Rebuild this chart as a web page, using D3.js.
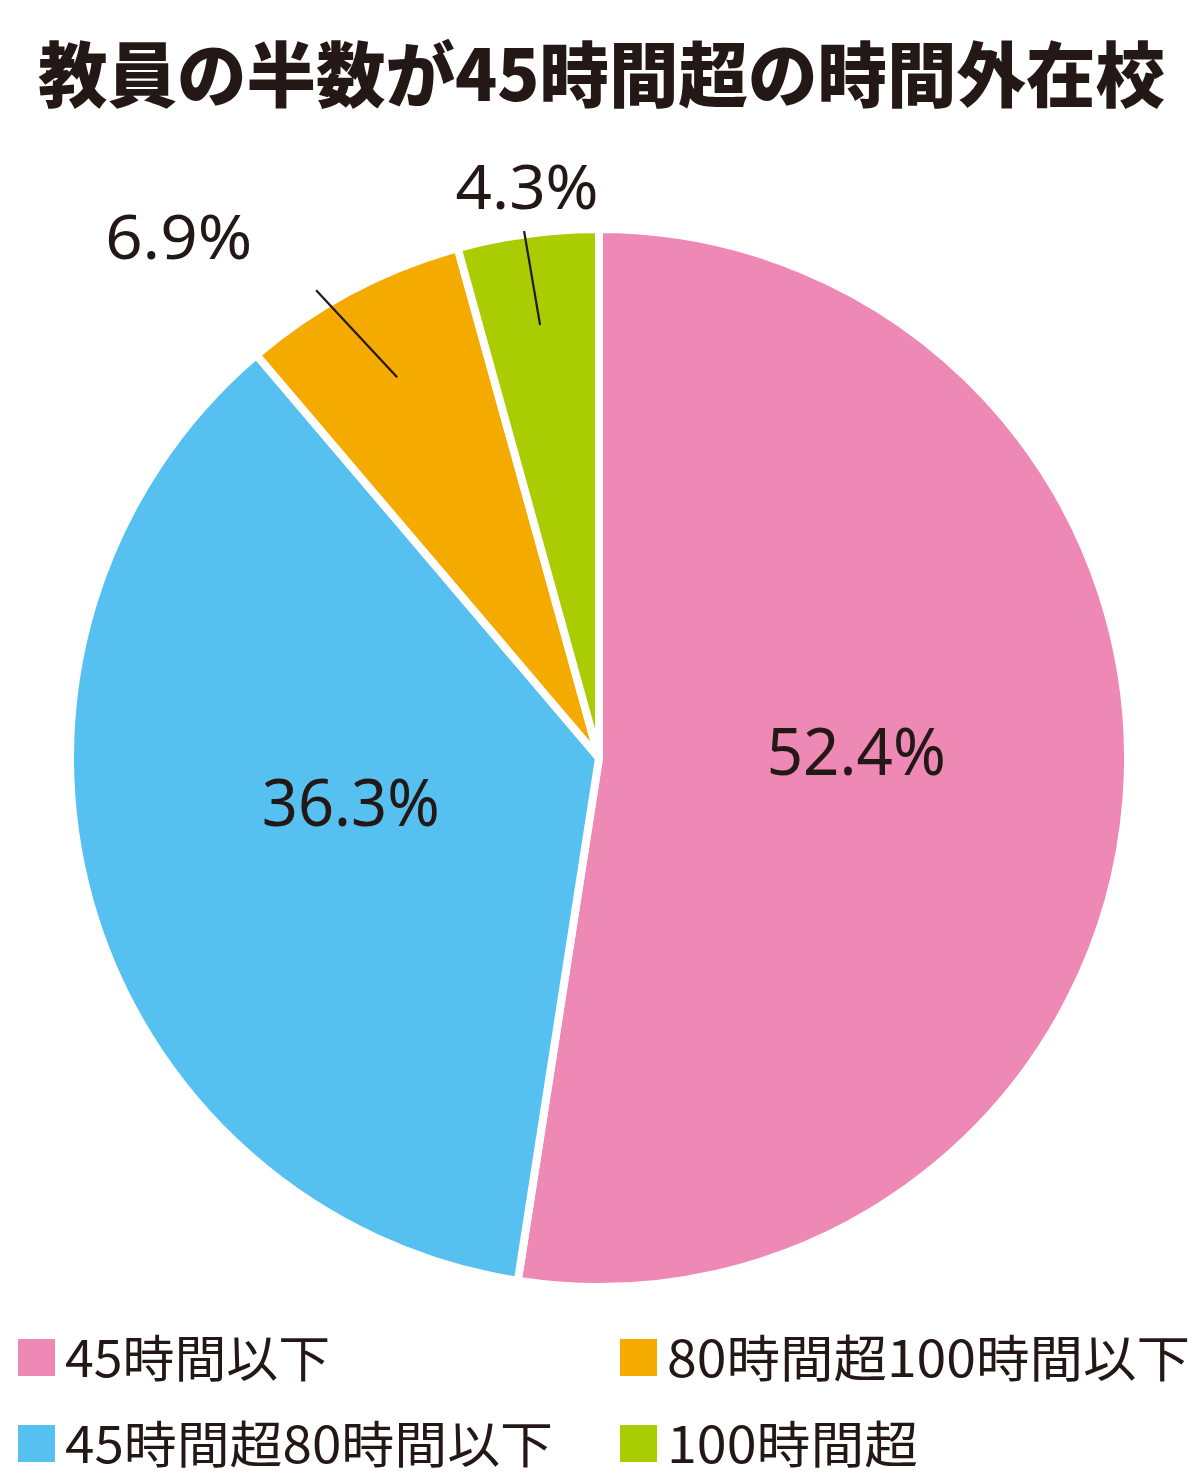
<!DOCTYPE html>
<html><head><meta charset="utf-8">
<script src="https://cdn.jsdelivr.net/npm/d3@7"></script>
<style>html,body{margin:0;padding:0;background:#fff;}</style>
</head><body>
<script>
const title = "教員の半数が45時間超の時間外在校";
const categories = ["45時間以下", "45時間超80時間以下", "80時間超100時間以下", "100時間超"];
const values = [52.4, 36.3, 6.9, 4.3];
const labels = ["52.4%", "36.3%", "6.9%", "4.3%"];
const colors = ["#EE88B4", "#56C1F0", "#F5AA00", "#AACC03"];

const W = 1200, H = 1476;
const cx = 599, cy = 758, R = 529;
const ink = "#231815";

const svg = d3.select("body").append("svg").attr("width", W).attr("height", H);
svg.append("rect").attr("width", W).attr("height", H).attr("fill", "#fff");

svg.append("text").attr("x", 38).attr("y", 101)
  .attr("textLength", 1127).attr("lengthAdjust", "spacingAndGlyphs")
  .attr("font-family", "'Noto Sans CJK JP'").attr("font-weight", 900)
  .attr("font-size", 71).attr("fill", ink).text(title);

const pie = d3.pie().sort(null).value(d => d);
const arcs = pie(values);
const arc = d3.arc().innerRadius(0).outerRadius(R);
const g = svg.append("g").attr("transform", `translate(${cx},${cy})`);

g.selectAll("path.slice").data(arcs).join("path")
  .attr("d", arc).attr("fill", (d, i) => colors[i])
  .attr("stroke", "#fff").attr("stroke-width", 8).attr("stroke-linejoin", "miter");

// inner labels
const inArc = d3.arc().innerRadius(258).outerRadius(258);
const innerDy = [-28, -27];
const innerW = [179, 178];
[0, 1].forEach(i => {
  const c = inArc.centroid(arcs[i]);
  g.append("text").attr("x", c[0]).attr("y", c[1] + innerDy[i])
    .attr("text-anchor", "middle").attr("dominant-baseline", "central")
    .attr("textLength", innerW[i]).attr("lengthAdjust", "spacingAndGlyphs")
    .attr("font-family", "'Noto Sans'").attr("font-size", 65).attr("fill", ink)
    .text(labels[i]);
});

// leader lines & outer labels
const leadR = [431, 437];
const leadVec = [[-81, -87], [-16, -94]];
const outerOff = [[-64, -31, "end"], [3, -22, "middle"]];
const outerW = [147, 143];
[2, 3].forEach((i, k) => {
  const a0 = d3.arc().innerRadius(leadR[k]).outerRadius(leadR[k]).centroid(arcs[i]);
  const a1 = [a0[0] + leadVec[k][0], a0[1] + leadVec[k][1]];
  g.append("line").attr("x1", a0[0]).attr("y1", a0[1]).attr("x2", a1[0]).attr("y2", a1[1])
    .attr("stroke", ink).attr("stroke-width", 2.2);
  g.append("text").attr("x", a1[0] + outerOff[k][0]).attr("y", a1[1] + outerOff[k][1])
    .attr("text-anchor", outerOff[k][2])
    .attr("textLength", outerW[k]).attr("lengthAdjust", "spacingAndGlyphs")
    .attr("font-family", "'Noto Sans'").attr("font-size", 62).attr("fill", ink)
    .text(labels[i]);
});

// legend
const legX = [18, 620], legY = [1339, 1425];
const legW = [265, 488, 523, 251];
const legPos = [[0,0],[0,1],[1,0],[1,1]];
categories.forEach((c, i) => {
  const [col, row] = legPos[i];
  svg.append("rect").attr("x", legX[col]).attr("y", legY[row]).attr("width", 37).attr("height", 37)
    .attr("fill", colors[i]);
  svg.append("text").attr("x", legX[col] + 47).attr("y", legY[row] + 38)
    .attr("textLength", legW[i]).attr("lengthAdjust", "spacingAndGlyphs")
    .attr("font-family", "'Noto Sans CJK JP'").attr("font-size", 50).attr("fill", ink)
    .text(c);
});
</script>
</body></html>
